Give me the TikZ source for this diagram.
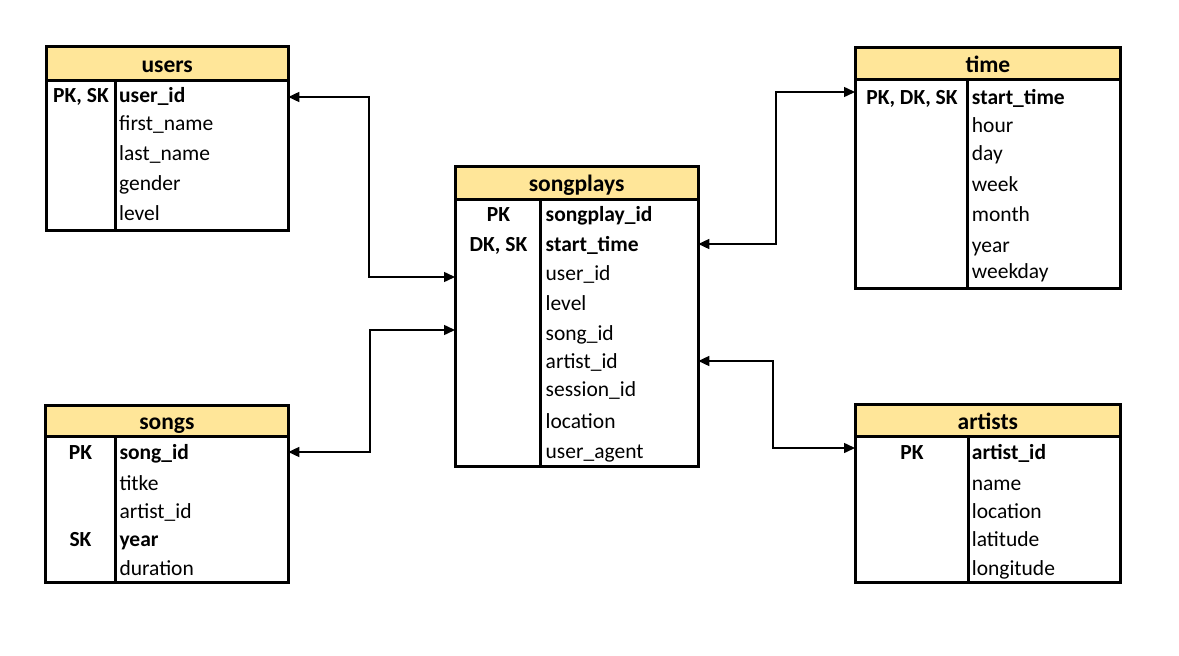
\documentclass[tikz,border=0pt]{standalone}
\usepackage{fontspec}
\setmainfont{Carlito}
\usetikzlibrary{arrows.meta}
\definecolor{hdryellow}{HTML}{FFE699}
\begin{document}
\begin{tikzpicture}[x=1pt,y=-1pt,
  tblbox/.style={draw, line width=3pt, anchor=north west, inner sep=0pt, outer sep=0pt, fill=white},
  hdrbox/.style={draw, line width=3pt, anchor=north west, inner sep=0pt, outer sep=0pt, fill=hdryellow, font=\fontsize{23.5}{28}\selectfont\bfseries, text height=17.5pt, text depth=0pt},
  divider/.style={line width=3pt},
  fld/.style={anchor=base west, inner sep=0pt, font=\fontsize{21.5}{26}\selectfont},
  fldb/.style={anchor=base west, inner sep=0pt, font=\fontsize{21.5}{26}\selectfont\bfseries},
  keyt/.style={anchor=base, inner sep=0pt, font=\fontsize{21.5}{26}\selectfont\bfseries},
  link/.style={line width=1.5pt, {Triangle[length=11pt,width=10pt]}-{Triangle[length=11pt,width=10pt]}}
]
\useasboundingbox[fill=white] (0,0) rectangle (1179,656);

% ---------- users ----------
\node[tblbox, minimum width=242.3pt, minimum height=183.3pt] (users) at (46,46.7) {};
\node[hdrbox, minimum width=242.3pt, minimum height=33.3pt] (users-h) at (46,46.7) {users};
\draw[divider] (users-h.south -| 115,0) -- (users.south -| 115,0);
\node[keyt] (users-k1) at (81,102.7) {PK, SK};
\node[fldb] (users-1) at (119,102.7) {user\_id};
\node[fld] (users-2) at (119,130.7) {first\_name};
\node[fld] (users-3) at (119,160) {last\_name};
\node[fld] (users-4) at (119,190.7) {gender};
\node[fld] (users-5) at (119,220) {level};

% ---------- songs ----------
\node[tblbox, minimum width=242.8pt, minimum height=177.7pt] (songs) at (45.5,405) {};
\node[hdrbox, minimum width=242.8pt, minimum height=31.7pt] (songs-h) at (45.5,405) {songs};
\draw[divider] (songs-h.south -| 115.7,0) -- (songs.south -| 115.7,0);
\node[keyt] (songs-k1) at (80.5,459.3) {PK};
\node[keyt] (songs-k2) at (80.5,546.7) {SK};
\node[fldb] (songs-1) at (119.3,459.3) {song\_id};
\node[fld] (songs-2) at (119.3,490) {titke};
\node[fld] (songs-3) at (119.3,518.3) {artist\_id};
\node[fldb] (songs-4) at (119.3,546.7) {year};
\node[fld] (songs-5) at (119.3,575) {duration};

% ---------- songplays ----------
\node[tblbox, minimum width=243.3pt, minimum height=300pt] (songplays) at (455,166.7) {};
\node[hdrbox, minimum width=243.3pt, minimum height=32.6pt] (songplays-h) at (455,166.7) {songplays};
\draw[divider] (songplays-h.south -| 540.7,0) -- (songplays.south -| 540.7,0);
\node[keyt] (sp-k1) at (498.5,221) {PK};
\node[keyt] (sp-k2) at (498.5,251.7) {DK, SK};
\node[fldb] (sp-1) at (545.5,221) {songplay\_id};
\node[fldb] (sp-2) at (545.5,251.7) {start\_time};
\node[fld] (sp-3) at (545.5,280) {user\_id};
\node[fld] (sp-4) at (545.5,310.7) {level};
\node[fld] (sp-5) at (545.5,340) {song\_id};
\node[fld] (sp-6) at (545.5,368.3) {artist\_id};
\node[fld] (sp-7) at (545.5,396.7) {session\_id};
\node[fld] (sp-8) at (545.5,428.3) {location};
\node[fld] (sp-9) at (545.5,458.3) {user\_agent};

% ---------- time ----------
\node[tblbox, minimum width=265.7pt, minimum height=240.6pt] (time) at (855,47.7) {};
\node[hdrbox, minimum width=265.7pt, minimum height=31.6pt] (time-h) at (855,47.7) {time};
\draw[divider] (time-h.south -| 967.3,0) -- (time.south -| 967.3,0);
\node[keyt] (time-k1) at (912,104.3) {PK, DK, SK};
\node[fldb] (time-1) at (971.7,104.3) {start\_time};
\node[fld] (time-2) at (971.7,132.3) {hour};
\node[fld] (time-3) at (971.7,160) {day};
\node[fld] (time-4) at (971.7,191) {week};
\node[fld] (time-5) at (971.7,221) {month};
\node[fld] (time-6) at (971.7,252.3) {year};
\node[fld] (time-7) at (971.7,278.3) {weekday};

% ---------- artists ----------
\node[tblbox, minimum width=265.7pt, minimum height=178.7pt] (artists) at (855,404) {};
\node[hdrbox, minimum width=265.7pt, minimum height=32.7pt] (artists-h) at (855,404) {artists};
\draw[divider] (artists-h.south -| 968,0) -- (artists.south -| 968,0);
\node[keyt] (artists-k1) at (912,459.3) {PK};
\node[fldb] (artists-1) at (971.7,459.3) {artist\_id};
\node[fld] (artists-2) at (971.7,490) {name};
\node[fld] (artists-3) at (971.7,518.3) {location};
\node[fld] (artists-4) at (971.7,546.7) {latitude};
\node[fld] (artists-5) at (971.7,575) {longitude};

% ---------- connectors ----------
\coordinate (c1a) at (users.east |- 0,97);
\coordinate (c1b) at (songplays.west |- 0,277);
\coordinate (c2a) at (songs.east |- 0,452);
\coordinate (c2b) at (songplays.west |- 0,330);
\coordinate (c3a) at (songplays.east |- 0,244);
\coordinate (c3b) at (time.west |- 0,92);
\coordinate (c4a) at (songplays.east |- 0,361);
\coordinate (c4b) at (artists.west |- 0,448);

\draw[link] (c1a) -| (369,277) -- (c1b);
\draw[link] (c2a) -| (370,330) -- (c2b);
\draw[link] (c3a) -| (776,92) -- (c3b);
\draw[link] (c4a) -| (773,448) -- (c4b);
\end{tikzpicture}
\end{document}
